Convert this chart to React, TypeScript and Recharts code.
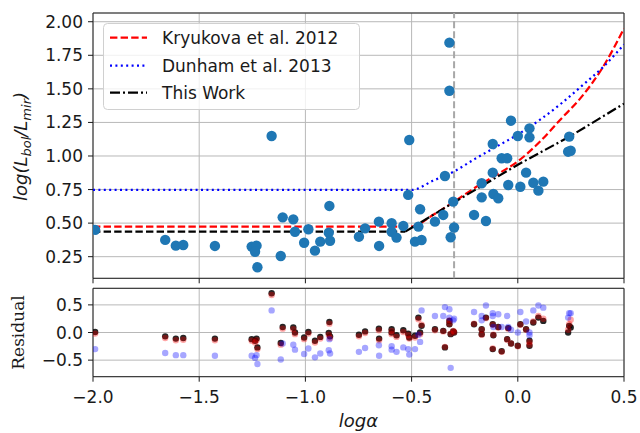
import React from 'react';
import {
  ComposedChart, Scatter, Line, XAxis, YAxis, CartesianGrid, ReferenceLine, ReferenceArea, Legend,
} from 'recharts';

// ---------- data ----------
const LOG_ALPHA = [
  -1.99, -1.66, -1.61, -1.575, -1.426, -1.253, -1.23, -1.237, -1.226, -1.159,
  -1.116, -1.107, -1.057, -1.049, -0.986, -1.006, -0.955, -0.93, -0.887, -0.89,
  -0.884, -0.748, -0.719, -0.654, -0.653, -0.594, -0.594, -0.571, -0.539, -0.516,
  -0.511, -0.484, -0.468, -0.46, -0.453, -0.39, -0.351, -0.343, -0.322, -0.322,
  -0.316, -0.304, -0.3, -0.206, -0.17, -0.17, -0.15, -0.118, -0.118, -0.115,
  -0.092, -0.076, -0.05, -0.045, -0.032, 0.0, 0.012, 0.039, 0.055, 0.055,
  0.073, 0.097, 0.12, 0.242, 0.237, 0.249,
];
const LOG_LRATIO = [
  0.45, 0.375, 0.332, 0.337, 0.33, 0.325, 0.332, 0.287, 0.171, 1.149,
  0.255, 0.543, 0.528, 0.436, 0.454, 0.354, 0.295, 0.362, 0.628, 0.429,
  0.369, 0.399, 0.461, 0.511, 0.33, 0.499, 0.436, 0.392, 0.479, 0.71,
  1.119, 0.362, 0.474, 0.603, 0.374, 0.511, 0.561, 0.851, 1.844, 1.486,
  0.395, 0.66, 0.467, 0.561, 0.797, 0.692, 0.516, 1.089, 0.876, 0.717,
  0.685, 0.983, 0.983, 0.784, 1.263, 1.149, 0.771, 0.876, 1.206, 1.139,
  0.801, 0.742, 0.809, 1.144, 1.032, 1.039,
];
const RES_THIS_WORK = [
  0.01, -0.07, -0.11, -0.1, -0.11, -0.12, -0.11, -0.15, -0.27, 0.71,
  -0.19, 0.1, 0.09, 0.0, 0.01, -0.09, -0.15, -0.08, 0.19, -0.01,
  -0.07, -0.04, 0.02, 0.07, -0.11, 0.06, 0.0, -0.05, 0.04, -0.02,
  -0.09, -0.06, 0.27, 0.0, 0.12, 0.06, 0.03, -0.27, 0.21, 0.15,
  -0.03, 0.02, 0.0, 0.15, -0.03, 0.06, 0.27, 0.15, -0.3, -0.05,
  0.1, -0.34, -0.12, 0.08, -0.2, -0.24, 0.15, 0.06, -0.15, -0.24,
  0.18, 0.27, 0.21, 0.12, 0.0, 0.09,
];
const RES_KRYUKOVA = [
  -0.02, -0.1, -0.14, -0.13, -0.14, -0.15, -0.14, -0.18, -0.3, 0.68,
  -0.22, 0.07, 0.06, -0.03, -0.02, -0.12, -0.18, -0.11, 0.16, -0.04,
  -0.1, -0.07, -0.01, 0.04, -0.14, 0.03, -0.03, -0.08, 0.01, -0.05,
  -0.11, -0.09, 0.24, -0.03, 0.14, 0.04, 0.02, -0.26, 0.22, 0.16,
  -0.02, 0.03, 0.01, 0.16, -0.04, 0.05, 0.26, 0.14, -0.29, -0.04,
  0.09, -0.35, -0.13, 0.07, -0.2, -0.25, 0.14, 0.05, -0.17, -0.22,
  0.2, 0.3, 0.25, 0.15, 0.05, 0.23,
];
const RES_DUNHAM = [
  -0.3, -0.37, -0.41, -0.41, -0.42, -0.42, -0.41, -0.46, -0.57, 0.4,
  -0.49, -0.2, -0.22, -0.31, -0.29, -0.39, -0.45, -0.38, -0.12, -0.32,
  -0.38, -0.35, -0.28, -0.23, -0.42, -0.25, -0.31, -0.35, -0.27, -0.3,
  -0.4, -0.3, -0.04, -0.17, 0.4, 0.3, 0.3, 0.46, 0.42, 0.27,
  -0.64, 0.22, 0.25, 0.37, 0.22, 0.3, 0.49, 0.3, 0.35, 0.1,
  0.33, 0.1, 0.3, 0.1, 0.05, 0.0, 0.37, 0.2, -0.05, 0.0,
  0.4, 0.49, 0.45, 0.35, 0.27, 0.35,
];

// model curves
const KRY_X = [-2.0, -0.5, -0.4, -0.3, -0.2, -0.1, 0.0, 0.1, 0.2, 0.3, 0.4, 0.5];
const KRY_Y = [0.474, 0.474, 0.56, 0.66, 0.765, 0.86, 0.96, 1.1, 1.27, 1.44, 1.66, 1.95];
const DUN_X = [-2.0, -0.5, -0.4, -0.3, -0.2, -0.1, 0.0, 0.1, 0.2, 0.3, 0.4, 0.5];
const DUN_Y = [0.747, 0.747, 0.815, 0.885, 0.98, 1.07, 1.16, 1.265, 1.385, 1.52, 1.66, 1.83];
const TW_FLAT_X = [-2.0, -0.53];
const TW_FLAT_Y = [0.437, 0.437];
const TW_X = [-0.53, -0.3, 0.0, 0.25, 0.5];
const TW_Y = [0.437, 0.655, 0.935, 1.15, 1.39];
const VLINE_X = -0.3;

const X_TICKS = [-2.0, -1.5, -1.0, -0.5, 0.0, 0.5];
const TOP_Y_TICKS = [0.25, 0.5, 0.75, 1.0, 1.25, 1.5, 1.75, 2.0];
const RES_Y_TICKS = [-0.5, 0.0, 0.5];
const LEGEND_LABELS = ['Kryukova et al. 2012', 'Dunham et al. 2013', 'This Work'];

// ---------- tables built from the arrays ----------
const zip = (xs: number[], ys: number[]) => xs.map((x, i) => ({ x, y: ys[i] }));
const topPoints = zip(LOG_ALPHA, LOG_LRATIO);
const kryLine = zip(KRY_X, KRY_Y);
const dunLine = zip(DUN_X, DUN_Y);
const twFlat = zip(TW_FLAT_X, TW_FLAT_Y);
const twLine = zip(TW_X, TW_Y);
const resTW = zip(LOG_ALPHA, RES_THIS_WORK);
const resK = zip(LOG_ALPHA, RES_KRYUKOVA);
const resD = zip(LOG_ALPHA, RES_DUNHAM);

const FONT = 'DejaVu Sans';
const INK = '#1a1a1a';
const minus = (s: string) => s.replace('-', '\u2212');

const dot = (r: number, fill: string, opacity = 1) => (p: any) =>
  <circle cx={p.cx} cy={p.cy} r={r} fill={fill} fillOpacity={opacity} />;

const TopYLabel = () => (
  <text x={27} y={146.5} transform="rotate(-90 27 146.5)" textAnchor="middle"
    fontFamily={FONT} fontStyle="italic" fontSize={18} fill={INK}>
    log(L<tspan dy={4} fontSize={13}>bol</tspan><tspan dy={-4}>/L</tspan>
    <tspan dy={4} fontSize={13}>mir</tspan><tspan dy={-4}>)</tspan>
  </text>
);

const ResYLabel = () => (
  <text x={24} y={52.5} transform="rotate(-90 24 52.5)" textAnchor="middle"
    fontFamily="DejaVu Serif" fontSize={17} fill={INK}>Residual</text>
);

const XLabel = () => (
  <text x={358.5} y={147} textAnchor="middle" fontFamily={FONT} fontStyle="italic"
    fontSize={18} fill={INK}>logα</text>
);

const NoTickLabel = () => <g />;

const LegendBox = () => {
  const rows = [
    { color: 'red', dash: '7.4 3.2', w: 2.2 },
    { color: 'blue', dash: '2 3.4', w: 2.2 },
    { color: 'black', dash: '10 3 2 3', w: 2.2 },
  ];
  const centers = [14.7, 42.7, 69.7];
  return (
    <svg width={257} height={87} style={{ display: 'block' }}>
      <rect x={0.5} y={0.5} width={256} height={86} rx={4} fill="#fff" fillOpacity={0.8} stroke="#d0d0d0" />
      {rows.map((r, i) => (
        <g key={i}>
          <line x1={7} x2={44} y1={centers[i]} y2={centers[i]} stroke={r.color}
            strokeWidth={r.w} strokeDasharray={r.dash} />
          <text x={59} y={centers[i] + 6.2} fontFamily={FONT} fontSize={17} fill={INK}>
            {LEGEND_LABELS[i]}
          </text>
        </g>
      ))}
    </svg>
  );
};

const tickStyle = { fontFamily: FONT, fontSize: 17, fill: INK };

export default function App() {
  return (
    <div style={{ position: 'absolute', left: 0, top: 0, width: 640, height: 433, background: '#fff' }}>
      <div style={{ position: 'absolute', left: 0, top: 0 }}>
        <ComposedChart width={640} height={290} margin={{ top: 13, right: 16, bottom: 0, left: 0 }}>
          <CartesianGrid stroke="#b8b8b8" strokeWidth={1} />
          <XAxis type="number" dataKey="x" domain={[-2, 0.5]} ticks={X_TICKS} allowDataOverflow
            height={11.7} tick={<NoTickLabel />} tickSize={5} axisLine={false} tickLine={{ stroke: INK }} />
          <YAxis type="number" dataKey="y" domain={[0.089, 2.065]} ticks={TOP_Y_TICKS} allowDataOverflow
            width={93} tickSize={5} tickMargin={5} axisLine={false} tickLine={{ stroke: INK }}
            tick={tickStyle} tickFormatter={(v: number) => v.toFixed(2)} label={<TopYLabel />} />
          <ReferenceLine x={VLINE_X} stroke="#a8a8a8" strokeWidth={2} strokeDasharray="7 3" />
          <Scatter data={topPoints} isAnimationActive={false} shape={dot(5.2, '#1f77b4')} />
          <Line data={kryLine} dataKey="y" type="monotone" stroke="red" strokeWidth={2.2}
            strokeDasharray="7.4 3.2" dot={false} activeDot={false} isAnimationActive={false} />
          <Line data={dunLine} dataKey="y" type="monotone" stroke="blue" strokeWidth={2.2}
            strokeDasharray="2 3.4" dot={false} activeDot={false} isAnimationActive={false} />
          <Line data={twFlat} dataKey="y" type="linear" stroke="black" strokeWidth={2.2}
            strokeDasharray="7.4 3.2" dot={false} activeDot={false} isAnimationActive={false} />
          <Line data={twLine} dataKey="y" type="linear" stroke="black" strokeWidth={2.2}
            strokeDasharray="10 3 2 3" dot={false} activeDot={false} isAnimationActive={false} />
          <ReferenceArea x1={-2} x2={0.5} y1={0.089} y2={2.065} fill="none" stroke="#222" strokeWidth={1} />
          <Legend layout="vertical" align="center" verticalAlign="middle" content={() => <LegendBox />}
            wrapperStyle={{ left: 103, top: 23, width: 257, height: 87 }} />
        </ComposedChart>
      </div>
      <div style={{ position: 'absolute', left: 0, top: 280 }}>
        <ComposedChart width={640} height={153} margin={{ top: 8.3, right: 16, bottom: 0, left: 0 }}>
          <CartesianGrid stroke="#b8b8b8" strokeWidth={1} />
          <XAxis type="number" dataKey="x" domain={[-2, 0.5]} ticks={X_TICKS} allowDataOverflow
            height={56.3} tickSize={5} tickMargin={9} axisLine={false} tickLine={{ stroke: INK }}
            tick={tickStyle} tickFormatter={(v: number) => minus(v.toFixed(1))} label={<XLabel />} />
          <YAxis type="number" dataKey="y" domain={[-0.8, 0.8]} ticks={RES_Y_TICKS} allowDataOverflow
            width={93} tickSize={5} tickMargin={5} axisLine={false} tickLine={{ stroke: INK }}
            tick={tickStyle} tickFormatter={(v: number) => minus(v.toFixed(1))} label={<ResYLabel />} />
          <Scatter data={resTW} isAnimationActive={false} shape={dot(3.2, '#000', 0.85)} />
          <Scatter data={resK} isAnimationActive={false} shape={dot(3.2, 'red', 0.35)} />
          <Scatter data={resD} isAnimationActive={false} shape={dot(3.2, 'blue', 0.35)} />
          <ReferenceArea x1={-2} x2={0.5} y1={-0.8} y2={0.8} fill="none" stroke="#222" strokeWidth={1} />
        </ComposedChart>
      </div>
    </div>
  );
}
